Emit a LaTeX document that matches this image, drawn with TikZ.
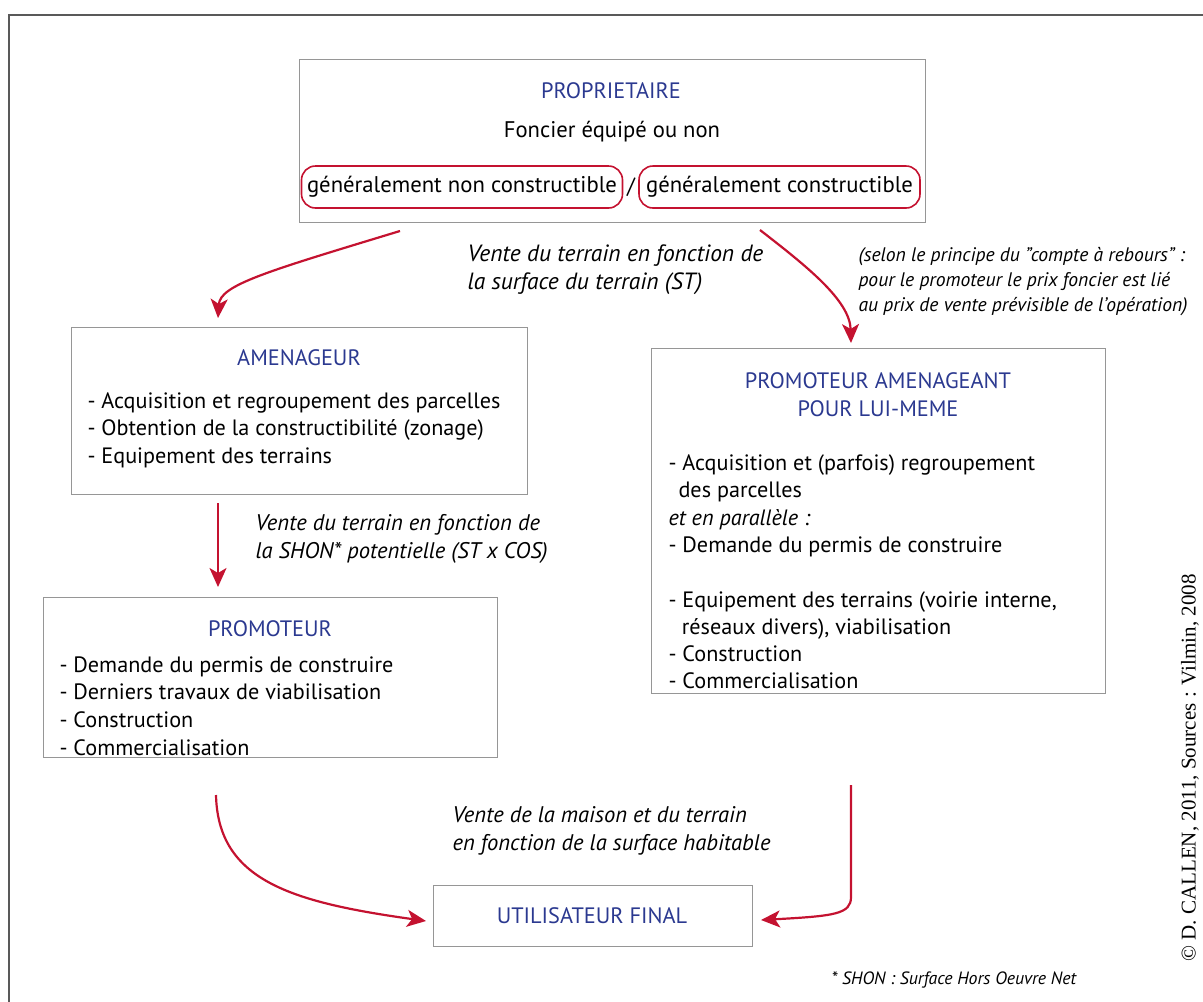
\documentclass[tikz,border=0pt]{standalone}
\usepackage{fontspec}
\setmainfont{PT Sans}
\newfontfamily\crfont{Liberation Serif}
\usetikzlibrary{arrows.meta}
\definecolor{titleblue}{RGB}{43,57,144}
\definecolor{arrowred}{RGB}{196,18,48}
\definecolor{boxgray}{RGB}{150,150,150}

\begin{document}
\begin{tikzpicture}[x=1pt,y=-1pt,
    box/.style={draw=boxgray,line width=1.2pt,anchor=north west,inner sep=0pt},
    ttl/.style={text=titleblue,align=center,font=\fontsize{22.3}{28}\selectfont},
    items/.style={anchor=west,align=left,font=\fontsize{22.2}{27.6}\selectfont},
    note/.style={anchor=west,align=left,font=\fontsize{22.6}{28}\selectfont\itshape},
    ring/.style={draw=arrowred,line width=1.6pt,rounded corners=14pt,minimum height=42pt,inner sep=0pt,font=\fontsize{22.7}{24}\selectfont},
    flow/.style={draw=arrowred,line width=2.2pt,-{Stealth[length=19pt,width=17pt,inset=5pt]}}]
    \useasboundingbox (0,0) rectangle (1203,1002);
    \draw [draw=gray!70!black,line width=1.5pt] (9,1002) -- (9,15) -- (1203,15);

    % proprietaire
    \node [box,minimum width=626pt,minimum height=163pt] (prop) at (299,59) {};
    \node [ttl] (propt) at (611,91) {PROPRIETAIRE};
    \node [font=\fontsize{22.6}{24}\selectfont] (fonc) at (612,132) {Foncier équipé ou non};
    \node [ring,minimum width=321pt] (nonc) at (462,187) {généralement non constructible};
    \node [font=\fontsize{22}{24}\selectfont] (slash) at (631,187) {/};
    \node [ring,minimum width=281pt] (cons) at (779.5,187) {généralement constructible};

    % amenageur
    \node [box,minimum width=456pt,minimum height=167pt] (amen) at (71,327) {};
    \node [ttl] (ament) at (299,358) {AMENAGEUR};
    \node [items] (amenl) at (84,430) {- Acquisition et regroupement des parcelles\\
        - Obtention de la constructibilité (zonage)\\- Equipement des terrains};

    % promoteur
    \node [box,minimum width=454pt,minimum height=160pt] (promo) at (43,597) {};
    \node [ttl] (promot) at (270,629) {PROMOTEUR};
    \node [items] (promol) at (56,706) {- Demande du permis de construire\\
        - Derniers travaux de viabilisation\\- Construction\\- Commercialisation};

    % promoteur amenageant
    \node [box,minimum width=454pt,minimum height=345pt] (proam) at (651,348) {};
    \node [ttl] (proamt) at (878,395) {PROMOTEUR AMENAGEANT\\POUR LUI-MEME};
    \node [items,font=\fontsize{22.2}{27.3}\selectfont] (proaml) at (665,572) {- Acquisition et (parfois) regroupement\\
        \hspace*{0.45em}des parcelles\\\textit{et en parallèle :}\\
        - Demande du permis de construire\\[27.3pt]
        - Equipement des terrains (voirie interne,\\
        \hspace*{0.6em}réseaux divers), viabilisation\\- Construction\\- Commercialisation};

    % utilisateur
    \node [box,minimum width=319pt,minimum height=61pt] (util) at (433,885) {};
    \node [ttl] (utilt) at (592,915.5) {UTILISATEUR FINAL};

    % notes
    \node [note,font=\fontsize{23.5}{28}\selectfont\itshape] (n1) at (464,270)
        {Vente du terrain en fonction de\\la surface du terrain (ST)};
    \node [note,font=\fontsize{19.6}{25}\selectfont\itshape] (n2) at (855,282)
        {(selon le principe du "compte à rebours" :\\pour le promoteur le prix foncier est lié\\
        au prix de vente prévisible de l'opération)};
    \node [note] (n3) at (252,539) {Vente du terrain en fonction de\\la SHON* potentielle (ST x COS)};
    \node [note] (n4) at (449,830.5) {Vente de la maison et du terrain\\en fonction de la surface habitable};
    \node [note,font=\fontsize{17.8}{20}\selectfont\itshape] (shon) at (828,980) {* SHON : Surface Hors Oeuvre Net};
    \node [rotate=90,font=\crfont\fontsize{21}{24}\selectfont] (copy) at (1190,768)
        {© D. CALLEN, 2011, Sources : Vilmin, 2008};

    % fleches
    \coordinate (a1s) at (400,231);  \coordinate (a1e) at (218,318);
    \coordinate (a2s) at (760,230);  \coordinate (a2e) at (851,343);
    \coordinate (a3s) at (218,503);  \coordinate (a3e) at (218,587);
    \coordinate (a4s) at (216,795);  \coordinate (a4e) at (426,921);
    \coordinate (a5s) at (851,785);  \coordinate (a5e) at (761,920);
    \draw [flow] (a1s) .. controls (265,272) and (220,285) .. (a1e);
    \draw [flow] (a2s) .. controls (805,265) and (850,300) .. (a2e);
    \draw [flow] (a3s) -- (a3e);
    \draw [flow] (a4s) .. controls (218,880) and (290,902) .. (a4e);
    \draw [flow] (a5s) -- (851,897) .. controls (851,914) and (835,916) .. (a5e);
\end{tikzpicture}
\end{document}
